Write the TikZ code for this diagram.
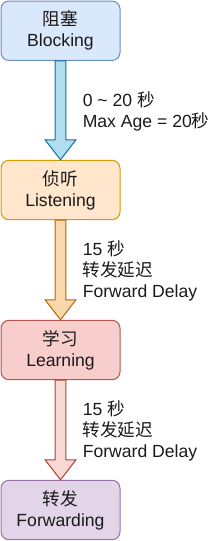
\documentclass[tikz,border=0pt]{standalone}
\usepackage{fontspec}
\setmainfont{Liberation Sans}
\newfontfamily\cjk{Noto Sans CJK SC}
\usetikzlibrary{calc}
\definecolor{bfill}{HTML}{DAE8FC}\definecolor{bdraw}{HTML}{6C8EBF}
\definecolor{ofill}{HTML}{FFE6CC}\definecolor{odraw}{HTML}{D79B00}
\definecolor{rfill}{HTML}{F8CECC}\definecolor{rdraw}{HTML}{B85450}
\definecolor{pfill}{HTML}{E1D5E7}\definecolor{pdraw}{HTML}{9673A6}
\definecolor{a1fill}{HTML}{B1DDF0}\definecolor{a1draw}{HTML}{10739E}
\definecolor{a2fill}{HTML}{FAD7AC}\definecolor{a2draw}{HTML}{B46504}
\definecolor{a3fill}{HTML}{FAD9D5}\definecolor{a3draw}{HTML}{AE4132}
\definecolor{txt}{HTML}{1A1A1A}
\tikzset{
  statebox/.style={draw, line width=0.75pt, rounded corners=6pt, minimum width=89.25pt,
    minimum height=44.6pt, inner sep=0pt, align=center, text=txt,
    font=\fontsize{13.2}{15.75}\selectfont},
  lbl/.style={anchor=west, inner sep=0pt, align=left, text=txt,
    font=\fontsize{13.2}{15.75}\selectfont},
  bigarrow/.style={line width=0.75pt, line join=miter}
}
\begin{document}
\begin{tikzpicture}[x=0.75pt,y=-0.75pt]
\useasboundingbox (0,0) rectangle (213,541);
\node[statebox, fill=bfill, draw=bdraw] (b1) at (60.5,30.75) {{\cjk 阻塞}\\Blocking};
\node[statebox, fill=ofill, draw=odraw] (b2) at (60.5,190) {{\cjk 侦听}\\Listening};
\node[statebox, fill=rfill, draw=rdraw] (b3) at (60.5,350) {{\cjk 学习}\\Learning};
\node[statebox, fill=pfill, draw=pdraw] (b4) at (60.5,510) {{\cjk 转发}\\Forwarding};
% arrows
\draw[bigarrow, fill=a1fill, draw=a1draw]
  ($(b1.south)+(-4pt,0)$) -- ($(b1.south)+(4pt,0)$)
  -- ($(b2.north)+(4pt,15pt)$) -- ($(b2.north)+(11.6pt,15pt)$)
  -- (b2.north) -- ($(b2.north)+(-11.6pt,15pt)$)
  -- ($(b2.north)+(-4pt,15pt)$) -- cycle;
\draw[bigarrow, fill=a2fill, draw=a2draw]
  ($(b2.south)+(-4pt,0)$) -- ($(b2.south)+(4pt,0)$)
  -- ($(b3.north)+(4pt,15pt)$) -- ($(b3.north)+(11.6pt,15pt)$)
  -- (b3.north) -- ($(b3.north)+(-11.6pt,15pt)$)
  -- ($(b3.north)+(-4pt,15pt)$) -- cycle;
\draw[bigarrow, fill=a3fill, draw=a3draw]
  ($(b3.south)+(-4pt,0)$) -- ($(b3.south)+(4pt,0)$)
  -- ($(b4.north)+(4pt,15pt)$) -- ($(b4.north)+(11.6pt,15pt)$)
  -- (b4.north) -- ($(b4.north)+(-11.6pt,15pt)$)
  -- ($(b4.north)+(-4pt,15pt)$) -- cycle;
% labels
\node[lbl] (l1) at (82.5,111.5) {0 \textasciitilde{} 20 {\cjk 秒}\\Max Age = 20{\cjk 秒}};
\node[lbl] (l2) at (82.5,271) {15 {\cjk 秒}\\{\cjk 转发延迟}\\Forward Delay};
\node[lbl] (l3) at (82.5,431) {15 {\cjk 秒}\\{\cjk 转发延迟}\\Forward Delay};
\end{tikzpicture}
\end{document}
